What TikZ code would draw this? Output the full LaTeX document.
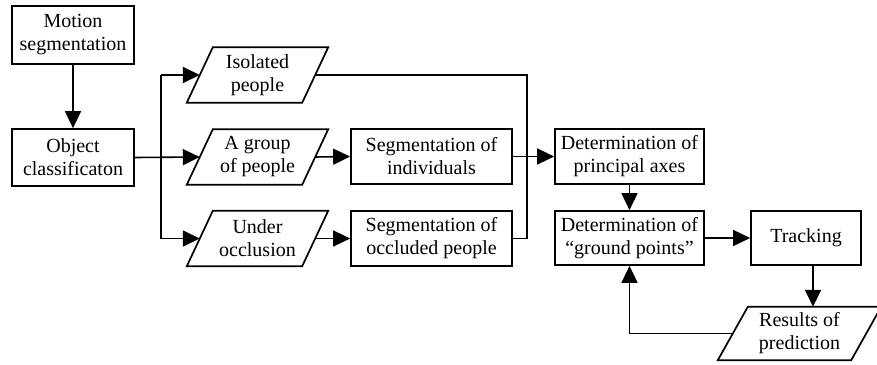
\documentclass[tikz,border=0pt]{standalone}
\usepackage{fontspec}
\setmainfont{Liberation Serif}
\usetikzlibrary{arrows.meta,calc}
\begin{document}
\begin{tikzpicture}[x=1pt,y=-1pt,
  every node/.style={font=\fontsize{20}{23}\selectfont, align=center, inner sep=0pt},
  box/.style={draw, line width=1.7pt, rectangle},
  para/.style={rectangle},
  arr/.style={line width=1.6pt, -{Triangle[length=17pt,width=16pt]}},
  ln/.style={line width=1.6pt}]
\useasboundingbox (0,0) rectangle (877,364);

\node[box, minimum width=122, minimum height=58] (motion) at (73,35) {Motion\\segmentation};
\node[box, minimum width=122, minimum height=57] (obj) at (73,157.5) {Object\\classificaton};

\node[para, minimum width=115, minimum height=55] (iso) at (257.5,75) {Isolated\\people};
\node[para, minimum width=115, minimum height=55] (grp) at (257.5,157) {A group\\of people};
\node[para, minimum width=115, minimum height=55] (und) at (257.5,238.5) {Under\\occlusion};

\node[box, minimum width=161, minimum height=55] (segind) at (431.5,156.5) {Segmentation of\\individuals};
\node[box, minimum width=161, minimum height=55] (segocc) at (431.5,238.5) {Segmentation of\\occluded people};

\node[box, minimum width=149, minimum height=55] (dpa) at (629.5,156.5) {Determination of\\principal axes};
\node[box, minimum width=149, minimum height=54] (dgp) at (629.5,238) {Determination of\\``ground points''};
\node[box, minimum width=110, minimum height=54] (track) at (806,238) {Tracking};

\node[para, minimum width=133, minimum height=53] (res) at (799.5,333.5) {Results of\\prediction};

% parallelogram outlines
\foreach \n/\s in {iso/13, grp/13, und/13, res/15}{
  \draw[line width=1.7pt] ([xshift=\s]\n.north west) -- ([xshift=\s]\n.north east)
     -- ([xshift=-\s]\n.south east) -- ([xshift=-\s]\n.south west) -- cycle;
}

\coordinate (br) at (161,157);
\coordinate (mg) at (527,157);

\draw[arr] (motion) -- (obj);
\draw[arr] (obj.east) -- (grp.west);
\draw[ln] (br |- iso.west) -- (br |- und.west);
\draw[arr] (br |- iso.west) -- (iso.west);
\draw[arr] (br |- und.west) -- (und.west);

\draw[arr] (grp.east) -- (segind.west);
\draw[arr] (und.east) -- (segocc.west);

\draw[ln] (iso.east) -- (mg |- iso.east) -- (mg |- segocc.east) -- (segocc.east);
\draw[arr] (segind.east) -- (dpa.west);

\draw[arr] (dpa) -- (dgp);
\draw[arr] (dgp) -- (track);
\draw[arr] ([xshift=7]track.south) -- ([xshift=7]track.south |- res.north);
\draw[arr] (res.west) -- (dgp.south |- res.west) -- (dgp.south);
\end{tikzpicture}
\end{document}
